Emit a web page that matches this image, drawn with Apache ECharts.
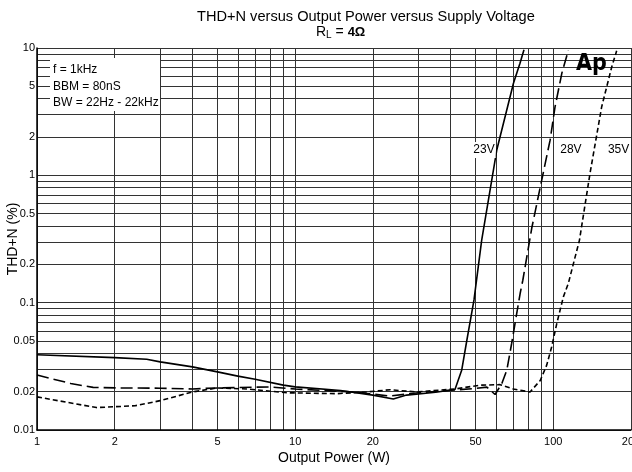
<!DOCTYPE html>
<html>
<head>
<meta charset="utf-8">
<script src="https://cdn.jsdelivr.net/npm/echarts@6/dist/echarts.min.js"></script>
<style>
  html, body { margin: 0; padding: 0; background: #fff; }
  #chart { width: 632px; height: 472px; }
</style>
</head>
<body>
<div id="chart"></div>
<script>
// Output power (W) / THD+N (%) pairs
const power23 = [1, 2, 2.66, 3, 4, 5, 6, 7, 9, 10, 15, 20, 24, 27, 35, 41.6, 44.2, 46.2, 49.3, 52.8, 60.4, 70.1, 74.3, 77];
const thd23 = [0.039, 0.037, 0.0359, 0.0343, 0.0313, 0.0286, 0.0265, 0.025, 0.0225, 0.0218, 0.0204, 0.0188, 0.0175, 0.0188, 0.0198, 0.0208, 0.0296, 0.05, 0.105, 0.31, 1.58, 5.28, 7.58, 9.7];

const power28 = [1, 1.35, 1.65, 2.1, 3, 4, 5, 8, 10, 16.8, 23.3, 30, 40, 50, 55.3, 59.5, 63.2, 66.1, 69, 71.1, 74.4, 76.2, 82.5, 90.2, 97.2, 101.6, 107.9, 114.4];
const thd28 = [0.027, 0.0232, 0.0216, 0.0214, 0.0213, 0.021, 0.0214, 0.0218, 0.021, 0.0199, 0.0185, 0.0196, 0.0205, 0.0212, 0.0217, 0.019, 0.0232, 0.0296, 0.048, 0.0688, 0.118, 0.15, 0.384, 0.918, 1.89, 3.46, 6.33, 9.6];

const power35 = [1, 1.7, 2.4, 3, 4, 5, 6.5, 9.3, 14.5, 18.9, 23.3, 29.6, 41.6, 52, 62.2, 70, 81.3, 89, 94.3, 98.6, 103.2, 109.4, 114.4, 126.3, 138.8, 154, 168.5, 176];
const thd35 = [0.0182, 0.015, 0.0155, 0.017, 0.0199, 0.0214, 0.021, 0.0196, 0.0193, 0.0199, 0.0207, 0.0199, 0.021, 0.0225, 0.0227, 0.021, 0.0199, 0.0245, 0.0323, 0.0451, 0.0688, 0.111, 0.142, 0.31, 1.04, 3.46, 7.13, 9.5];

const seriesNames = ['23V', '28V', '35V'];
// where the voltage tags sit (W, %)
const tagPower = [53.9, 117, 179];
const tagThd = [1.58, 1.58, 1.58];

const xTickLabels = [1, 2, 5, 10, 20, 50, 100, 200];
const yTickLabels = [0.01, 0.02, 0.05, 0.1, 0.2, 0.5, 1, 2, 5, 10];
const xGridValues = [1, 2, 3, 4, 5, 6, 7, 8, 9, 10, 20, 30, 40, 50, 60, 70, 80, 90, 100, 200];
const yGridValues = [0.01, 0.02, 0.03, 0.04, 0.05, 0.06, 0.07, 0.08, 0.09,
  0.1, 0.2, 0.3, 0.4, 0.5, 0.6, 0.7, 0.8, 0.9,
  1, 2, 3, 4, 5, 6, 7, 8, 9, 10];

const noteLines = ['f = 1kHz', 'BBM = 80nS', 'BW = 22Hz - 22kHz'];

const lg = v => Math.log10(v);
const fromLg = v => {
  const n = Math.pow(10, v);
  return String(parseFloat(n.toPrecision(3)));
};

function makeSeries(name, px, py, dash, idx) {
  return {
    name: name,
    type: 'line',
    data: px.map((p, i) => [lg(p), lg(py[i])]),
    symbol: 'none',
    lineStyle: { color: '#000', width: 1.6, type: dash },
    z: 3,
    markPoint: {
      symbol: 'rect',
      symbolSize: 1,
      itemStyle: { color: 'rgba(0,0,0,0)' },
      data: [{ coord: [lg(tagPower[idx]), lg(tagThd[idx])], value: name }],
      label: {
        show: true,
        position: 'inside',
        formatter: name,
        color: '#000',
        fontSize: 12,
        fontFamily: 'Liberation Sans',
        backgroundColor: '#fff',
        padding: [2, 1]
      }
    }
  };
}

const chart = echarts.init(document.getElementById('chart'));
const font = 'Liberation Sans';

chart.setOption({
  animation: false,
  backgroundColor: '#fff',
  grid: { left: 37, right: 1, top: 48, bottom: 42, containLabel: false, outerBoundsMode: 'none' },
  xAxis: {
    type: 'value',
    min: 0,
    max: lg(200),
    name: 'Output Power (W)',
    nameLocation: 'middle',
    nameGap: 21,
    nameMoveOverlap: false,
    nameTextStyle: { fontFamily: font, fontSize: 14, color: '#000' },
    axisLine: { show: true, onZero: false, lineStyle: { color: '#000', width: 1.5 } },
    axisTick: { show: false, customValues: xGridValues.map(lg) },
    axisLabel: {
      customValues: xTickLabels.map(lg),
      formatter: fromLg,
      fontFamily: font, fontSize: 11, color: '#000', margin: 6
    },
    splitLine: { show: true, lineStyle: { color: '#333', width: 1 } }
  },
  yAxis: {
    type: 'value',
    min: -2,
    max: 1,
    name: 'THD+N (%)',
    nameLocation: 'middle',
    nameGap: 17,
    nameMoveOverlap: false,
    nameTextStyle: { fontFamily: font, fontSize: 14, color: '#000' },
    axisLine: { show: true, onZero: false, lineStyle: { color: '#000', width: 1.5 } },
    axisTick: { show: false, customValues: yGridValues.map(lg) },
    axisLabel: {
      customValues: yTickLabels.map(lg),
      formatter: fromLg,
      fontFamily: font, fontSize: 11, color: '#000', margin: 2
    },
    splitLine: { show: true, lineStyle: { color: '#333', width: 1 } }
  },
  series: [
    makeSeries(seriesNames[0], power23, thd23, 'solid', 0),
    makeSeries(seriesNames[1], power28, thd28, [12, 5], 1),
    makeSeries(seriesNames[2], power35, thd35, [5, 3], 2)
  ],
  graphic: [
    {
      type: 'text', left: 197, top: 9,
      style: { text: 'THD+N versus Output Power versus Supply Voltage', font: '14.6px ' + font, fill: '#000' }
    },
    {
      type: 'text', left: 316, top: 25,
      style: {
        text: '{r|R}{s|L}{r| = }{b|4Ω}',
        rich: {
          r: { fontFamily: font, fontSize: 14, color: '#000' },
          s: { fontFamily: font, fontSize: 10, color: '#000', verticalAlign: 'bottom', padding: [6, 0, 0, 0] },
          b: { fontFamily: font, fontSize: 13, fontWeight: 'bold', color: '#000' }
        }
      }
    },
    {
      type: 'rect', left: 50, top: 58, z: 10,
      shape: { width: 110, height: 53 },
      style: { fill: '#fff' }
    }
  ].concat(noteLines.map((t, i) => ({
    type: 'text', left: 53, top: 64 + i * 16.5, z: 11,
    style: { text: t, font: '12px ' + font, fill: '#000' }
  }))).concat([
    {
      type: 'text', left: 576, top: 53, z: 11,
      style: { text: 'Ap', font: 'bold 23px "Liberation Sans Narrow", "DejaVu Sans Condensed", sans-serif', fill: '#000' }
    }
  ])
});
</script>
</body>
</html>
